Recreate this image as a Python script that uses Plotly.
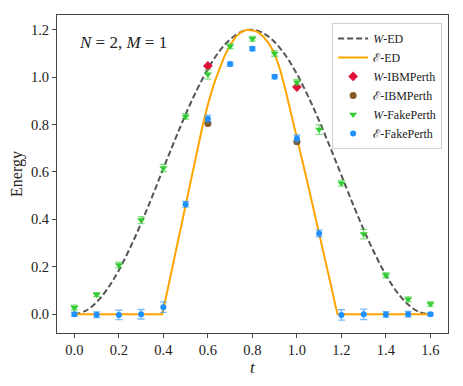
import plotly.graph_objects as go

# ---- data ----
t_pts = [0.0, 0.1, 0.2, 0.3, 0.4, 0.5, 0.6, 0.7, 0.8, 0.9, 1.0, 1.1, 1.2, 1.3, 1.4, 1.5, 1.6]

w_fake = [0.028, 0.083, 0.208, 0.397, 0.617, 0.834, 1.012, 1.130, 1.162, 1.100, 0.978, 0.779, 0.552, 0.338, 0.165, 0.063, 0.043]
w_fake_err = [0.010, 0.008, 0.012, 0.015, 0.015, 0.012, 0.020, 0.010, 0.010, 0.012, 0.012, 0.020, 0.012, 0.020, 0.010, 0.010, 0.010]

e_fake = [0.0, -0.002, -0.003, 0.0, 0.030, 0.464, 0.825, 1.055, 1.120, 1.002, 0.741, 0.341, -0.003, 0.0, -0.001, 0.0, 0.0]
e_fake_err = [0.008, 0.012, 0.020, 0.020, 0.022, 0.012, 0.015, 0.008, 0.008, 0.008, 0.015, 0.015, 0.022, 0.022, 0.012, 0.012, 0.006]

t_ibm = [0.6, 1.0]
w_ibm = [1.047, 0.958]
e_ibm = [0.804, 0.727]

t_wed = [0.0, 0.05, 0.1, 0.15, 0.2, 0.25, 0.3, 0.35, 0.4, 0.45, 0.5, 0.55, 0.6, 0.65, 0.7, 0.75, 0.8,
         0.85, 0.9, 0.95, 1.0, 1.05, 1.1, 1.15, 1.2, 1.25, 1.3, 1.35, 1.4, 1.45, 1.5, 1.55, 1.6]
w_ed = [0.0, 0.014, 0.051, 0.109, 0.186, 0.279, 0.384, 0.497, 0.615, 0.731, 0.843, 0.945, 1.034, 1.107, 1.159, 1.191, 1.200,
        1.185, 1.148, 1.090, 1.013, 0.920, 0.816, 0.703, 0.586, 0.469, 0.357, 0.255, 0.166, 0.093, 0.041, 0.009, 0.0]

t_eed = [0.0, 0.1, 0.2, 0.3, 0.395, 0.425, 0.45, 0.475, 0.5, 0.525, 0.55, 0.575, 0.6, 0.625, 0.65, 0.675, 0.7,
         0.725, 0.75, 0.775, 0.8, 0.825, 0.85, 0.875, 0.9, 0.925, 0.95, 0.975, 1.0, 1.025, 1.05, 1.075, 1.1,
         1.125, 1.15, 1.175, 1.183, 1.3, 1.4, 1.5, 1.6]
e_ed = [0.0, 0.0, 0.0, 0.0, 0.0, 0.13, 0.24, 0.355, 0.465, 0.575, 0.68, 0.79, 0.885, 0.965, 1.03, 1.09, 1.135,
        1.17, 1.19, 1.2, 1.197, 1.19, 1.17, 1.14, 1.10, 1.03, 0.94, 0.845, 0.745, 0.645, 0.545, 0.445, 0.345,
        0.24, 0.135, 0.03, 0.0, 0.0, 0.0, 0.0, 0.0]

x_ticks = [0.0, 0.2, 0.4, 0.6, 0.8, 1.0, 1.2, 1.4, 1.6]
y_ticks = [0.0, 0.2, 0.4, 0.6, 0.8, 1.0, 1.2]

FONT = "Liberation Serif, DejaVu Serif, serif"

fig = go.Figure()
fig.add_trace(go.Scatter(x=t_wed, y=w_ed, mode="lines", name="<i>W</i>-ED",
                         line=dict(color="#555555", width=2, dash="6px,3px", shape="spline")))
fig.add_trace(go.Scatter(x=t_eed, y=e_ed, mode="lines", name="ℰ-ED",
                         line=dict(color="#FFA500", width=2)))
fig.add_trace(go.Scatter(x=t_ibm, y=w_ibm, mode="markers", name="<i>W</i>-IBMPerth",
                         marker=dict(symbol="diamond", color="#e0103a", size=7.5)))
fig.add_trace(go.Scatter(x=t_ibm, y=e_ibm, mode="markers", name="ℰ-IBMPerth",
                         marker=dict(symbol="circle", color="#865a25", size=7)))
fig.add_trace(go.Scatter(x=t_pts, y=w_fake, mode="markers", name="<i>W</i>-FakePerth",
                         marker=dict(symbol="triangle-down", color="#32CD32", size=7),
                         error_y=dict(type="data", array=w_fake_err, color="rgba(50,205,50,0.6)",
                                      thickness=1.3, width=3.5)))
fig.add_trace(go.Scatter(x=t_pts, y=e_fake, mode="markers", name="ℰ-FakePerth",
                         marker=dict(symbol="circle", color="#1E90FF", size=6),
                         error_y=dict(type="data", array=e_fake_err, color="rgba(30,144,255,0.6)",
                                      thickness=1.3, width=3.5)))

fig.add_annotation(x=0.05, y=0.914, xref="paper", yref="paper", xanchor="left", yanchor="middle",
                   text="<i>N</i> = 2, <i>M</i> = 1", showarrow=False,
                   font=dict(family=FONT, size=17, color="#222"))
fig.add_annotation(x=0.5, y=-0.108, xref="paper", yref="paper", xanchor="center", yanchor="middle",
                   text="<i>t</i>", showarrow=False,
                   font=dict(family=FONT, size=17, color="#222"))

axis_common = dict(showline=True, linecolor="#444", linewidth=1, mirror=True, ticks="outside",
                   ticklen=4, tickwidth=1, tickcolor="#444", showgrid=False, zeroline=False,
                   tickfont=dict(family=FONT, size=14.5, color="#222"))

fig.update_layout(
    width=455, height=378,
    margin=dict(l=49.3, r=14.7, t=6.5, b=53),
    plot_bgcolor="white", paper_bgcolor="white",
    font=dict(family=FONT, color="#222"),
    xaxis=dict(range=[-0.078, 1.679], tickvals=x_ticks, ticktext=[f"{v:.1f}" for v in x_ticks],
               **axis_common),
    yaxis=dict(range=[-0.079, 1.262], tickvals=y_ticks, ticktext=[f"{v:.1f}" for v in y_ticks],
               title=dict(text="Energy", font=dict(family=FONT, size=16), standoff=6), **axis_common),
    legend=dict(x=0.985, y=0.975, xanchor="right", yanchor="top",
                bgcolor="rgba(255,255,255,0.85)", bordercolor="#d0d0d0", borderwidth=1,
                font=dict(family=FONT, size=12, color="#222"), tracegroupgap=0, itemwidth=30),
    showlegend=True,
)

fig.write_html("out.html")
